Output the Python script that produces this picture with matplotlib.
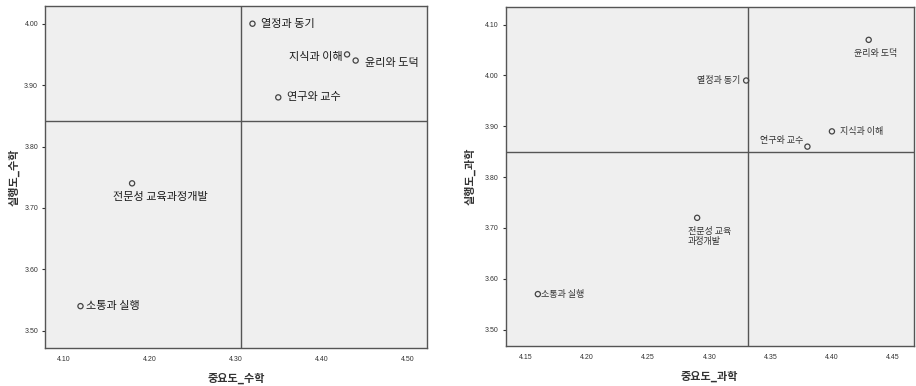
import matplotlib
matplotlib.use('Agg')
import matplotlib.pyplot as plt
import numpy as np

plt.rcParams['font.family'] = ['Noto Sans CJK KR', 'DejaVu Sans']

# competency areas
categories = ['열정과 동기', '지식과 이해', '윤리와 도덕', '연구와 교수', '전문성 교육과정개발', '소통과 실행']

# math teachers: importance (x) vs performance (y)
math_importance = [4.32, 4.43, 4.44, 4.35, 4.18, 4.12]
math_performance = [4.00, 3.95, 3.94, 3.88, 3.74, 3.54]

# science teachers
sci_importance = [4.33, 4.40, 4.43, 4.38, 4.29, 4.16]
sci_performance = [3.99, 3.89, 4.07, 3.86, 3.72, 3.57]
sci_labels = ['열정과 동기', '지식과 이해', '윤리와 도덕', '연구와 교수', '전문성 교육\n과정개발', '소통과 실행']

math_xticks = [4.10, 4.20, 4.30, 4.40, 4.50]
math_yticks = [3.50, 3.60, 3.70, 3.80, 3.90, 4.00]
sci_xticks = [4.15, 4.20, 4.25, 4.30, 4.35, 4.40, 4.45]
sci_yticks = [3.50, 3.60, 3.70, 3.80, 3.90, 4.00, 4.10]

# label placement: (dx, dy) in points, ha
math_offsets = [(6, 0, 'left'), (-3, -2, 'right'), (7, -2, 'left'),
                (6, 0, 'left'), (-14, -10, 'left'), (4, 0, 'left')]
sci_offsets = [(-4, 0, 'right'), (5.5, 0, 'left'), (5, -9.6, 'center'),
               (-3, 4.6, 'right'), (-6.7, -13.6, 'left'), (2.5, 0, 'left')]

edge = '#555555'


def quadrant(ax, xs, ys, labels, offsets, xticks, yticks, xlim, ylim,
             xlabel, ylabel, fsize, tcolor):
  ax.set_facecolor('#efefef')
  ax.axvline(np.mean(xs), color=edge, lw=1, zorder=1)
  ax.axhline(np.mean(ys), color=edge, lw=1, zorder=1)
  ax.scatter(xs, ys, s=14, facecolors='none', edgecolors='#444444', linewidths=0.9, zorder=3)
  for x, y, lab, (dx, dy, ha) in zip(xs, ys, labels, offsets):
    ax.annotate(lab, (x, y), xytext=(dx, dy), textcoords='offset points',
                ha=ha, va='center', fontsize=fsize, color=tcolor, linespacing=1.1)
  ax.set_xlim(*xlim)
  ax.set_ylim(*ylim)
  ax.set_xticks(xticks)
  ax.set_yticks(yticks)
  ax.set_xticklabels(['%.2f' % t for t in xticks], fontfamily='Liberation Sans')
  ax.set_yticklabels(['%.2f' % t for t in yticks], fontfamily='Liberation Sans')
  ax.tick_params(axis='x', length=0, pad=6, labelsize=5, colors='#333333')
  ax.tick_params(axis='y', length=2.5, width=0.8, pad=2.5, labelsize=5,
                 colors='#333333')
  for sp in ax.spines.values():
    sp.set_color(edge)
    sp.set_linewidth(1)
  ax.set_xlabel(xlabel, fontsize=8, fontweight='bold', color='#333333')
  ax.set_ylabel(ylabel, fontsize=8, fontweight='bold', color='#333333')


fig = plt.figure(figsize=(9.16, 3.86), dpi=100)
ax1 = fig.add_axes([0.0491, 0.0984, 0.417, 0.886])
ax2 = fig.add_axes([0.552, 0.1044, 0.4457, 0.8767])

quadrant(ax1, math_importance, math_performance, categories, math_offsets,
         math_xticks, math_yticks, (4.0787, 4.5229), (3.4718, 4.0288),
         '중요도_수학', '실행도_수학', 8, '#1a1a1a')
ax1.xaxis.set_label_coords(0.5, -0.068)
ax1.yaxis.set_label_coords(-0.066, 0.5)

quadrant(ax2, sci_importance, sci_performance, sci_labels, sci_offsets,
         sci_xticks, sci_yticks, (4.1337, 4.4669), (3.4685, 4.134),
         '중요도_과학', '실행도_과학', 6.5, '#333333')
ax2.xaxis.set_label_coords(0.5, -0.072)
ax2.yaxis.set_label_coords(-0.072, 0.5)

fig.savefig('out.png', dpi=100, facecolor='white')
